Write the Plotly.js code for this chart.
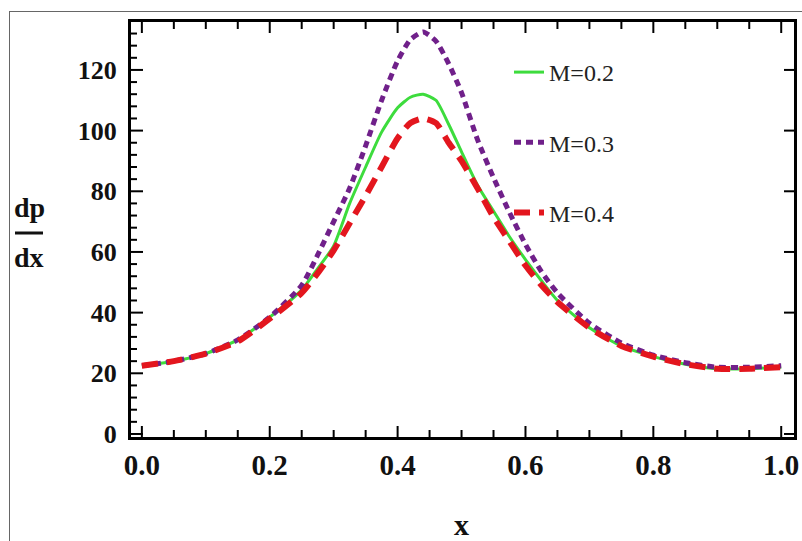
<!DOCTYPE html>
<html>
<head>
<meta charset="utf-8">
<script src="https://cdn.plot.ly/plotly-3.0.1.min.js"></script>
<style>
  html, body { margin: 0; padding: 0; background: #fff; }
  #wrap { position: relative; width: 802px; height: 541px; overflow: hidden; }
  #chart { position: absolute; left: 0; top: 0; width: 802px; height: 541px; }
  #frame { position: absolute; left: 9px; top: 11px; width: 900px; height: 700px;
           border-left: 1px solid #666; border-top: 1px solid #666; pointer-events: none; }
</style>
</head>
<body>
<div id="wrap">
  <div id="chart"></div>
  <div id="frame"></div>
</div>
<script>
// ---- data ----
const xVals = [0, 0.05, 0.1, 0.15, 0.2, 0.25, 0.275, 0.3, 0.325, 0.35, 0.375, 0.4, 0.42, 0.44, 0.46, 0.48, 0.5, 0.525, 0.55, 0.575, 0.6, 0.625, 0.65, 0.7, 0.75, 0.8, 0.85, 0.9, 0.95, 1.0];
const yM02 = [22.5, 24, 26.5, 31, 38.5, 47.5, 54.5, 62, 76, 88, 99.5, 107.5, 111, 112, 110, 102, 93, 82, 73.5, 65, 57.5, 50.5, 44, 35, 29, 25.5, 23, 21.5, 21.5, 22];
const yM03 = [22.5, 24, 26.5, 31, 38.5, 49, 59, 70, 81, 95, 110, 123, 130, 132.5, 129.5, 122, 112.5, 97, 84.5, 73, 62.5, 53.5, 46.5, 36.5, 30, 26, 23.5, 22, 22, 22.5];
const yM04 = [22.5, 24, 26.5, 30.5, 38, 46.5, 53, 60.5, 69.5, 78.5, 88, 97.5, 102.5, 104, 102.5, 96, 90, 81, 71.5, 63.5, 55.5, 49, 43.5, 35, 29, 25.5, 23, 21.5, 21.5, 22];
const seriesNames = ["M=0.2", "M=0.3", "M=0.4"];
const xTickVals = [0, 0.2, 0.4, 0.6, 0.8, 1.0];
const xTickText = ["0.0", "0.2", "0.4", "0.6", "0.8", "1.0"];
const yTickVals = [0, 20, 40, 60, 80, 100, 120];
const xMinorStep = 0.05;
const yMinorStep = 4;

// ---- layout geometry (pixels) ----
const W = 802, H = 541;
const L = 131, R = 8, T = 22, B = 104;
const pw = W - L - R, ph = H - T - B;
const px = x => (x - L) / pw;
const py = y => (H - B - y) / ph;

const serif = "Liberation Serif, Times New Roman, serif";
const xRange = [-0.017, 1.02];
const yRange = [-1, 135.8];

const traces = [
  { x: xVals, y: yM02, name: seriesNames[0], legendgroup: "a", mode: "lines",
    line: { color: "#3ddc3d", width: 3, shape: "spline", smoothing: 0.6 } },
  { x: xVals, y: yM03, name: seriesNames[1], legendgroup: "b", mode: "lines",
    line: { color: "#70208a", width: 5, dash: "7px,5px", shape: "spline", smoothing: 0.6 } },
  { x: xVals, y: yM04, name: seriesNames[2], legendgroup: "c", mode: "lines",
    line: { color: "#e3161e", width: 6, dash: "16px,9px", shape: "spline", smoothing: 0.6 } }
];

// ---- inward tick marks, placed through the axes' own scales ----
const isMajor = (v, majors) => majors.some(m => Math.abs(m - v) < 1e-9);
const xMinorVals = [], yMinorVals = [];
for (let i = 0; i * xMinorStep <= 1 + 1e-9; i++) {
  const v = +(i * xMinorStep).toFixed(4);
  if (!isMajor(v, xTickVals)) xMinorVals.push(v);
}
for (let i = 0; i * yMinorStep <= 132; i++) {
  const v = i * yMinorStep;
  if (!isMajor(v, yTickVals)) yMinorVals.push(v);
}
const tickShapes = [];
function xTick(v, len, top) {
  tickShapes.push({ type: "line", xref: "x", yref: "paper", ysizemode: "pixel",
    yanchor: top ? 1 : 0, x0: v, x1: v, y0: 0, y1: top ? -len : len,
    line: { color: "#000", width: 2 } });
}
function yTick(v, len, right) {
  tickShapes.push({ type: "line", yref: "y", xref: "paper", xsizemode: "pixel",
    xanchor: right ? 1 : 0, y0: v, y1: v, x0: 0, x1: right ? -len : len,
    line: { color: "#000", width: 2 } });
}
xTickVals.forEach(v => { xTick(v, 11, false); xTick(v, 11, true); });
xMinorVals.forEach(v => { xTick(v, 7, false); xTick(v, 7, true); });
yTickVals.forEach(v => { yTick(v, 12, false); yTick(v, 10, true); });
yMinorVals.forEach(v => { yTick(v, 6, false); });

const layout = {
  width: W, height: H,
  margin: { l: L, r: R, t: T, b: B, pad: 0 },
  paper_bgcolor: "#fff", plot_bgcolor: "#fff",
  showlegend: true,
  legend: {
    x: px(509), y: py(50), xanchor: "left", yanchor: "top",
    bgcolor: "rgba(0,0,0,0)", borderwidth: 0,
    tracegroupgap: 36,
    font: { family: serif, size: 24, color: "#222" }
  },
  xaxis: {
    range: xRange, tickmode: "array", tickvals: xTickVals, ticktext: xTickText,
    showline: true, linecolor: "#000", linewidth: 3, mirror: true, ticks: "",
    showgrid: false, zeroline: false,
    tickfont: { family: serif, size: 29, color: "#111", weight: "bold" }
  },
  yaxis: {
    range: yRange, tickmode: "array", tickvals: yTickVals,
    showline: true, linecolor: "#000", linewidth: 3, mirror: true, ticks: "",
    showgrid: false, zeroline: false, ticklabelstandoff: 6,
    tickfont: { family: serif, size: 26, color: "#111", weight: "bold" }
  },
  annotations: [
    { text: "<b>dp</b>", xref: "paper", yref: "paper", x: px(29), y: py(207),
      xanchor: "center", yanchor: "middle", showarrow: false,
      font: { family: serif, size: 28, color: "#111" } },
    { text: "<b>dx</b>", xref: "paper", yref: "paper", x: px(29), y: py(257),
      xanchor: "center", yanchor: "middle", showarrow: false,
      font: { family: serif, size: 28, color: "#111" } },
    { text: "<b>x</b>", xref: "paper", yref: "paper", x: px(461), y: py(524),
      xanchor: "center", yanchor: "middle", showarrow: false,
      font: { family: serif, size: 30, color: "#111" } }
  ],
  shapes: [
    { type: "line", xref: "paper", yref: "paper", x0: px(15), x1: px(43), y0: py(233), y1: py(233),
      line: { color: "#111", width: 3 } }
  ].concat(tickShapes)
};

Plotly.newPlot("chart", traces, layout, { displayModeBar: false, staticPlot: true });
</script>
</body>
</html>
